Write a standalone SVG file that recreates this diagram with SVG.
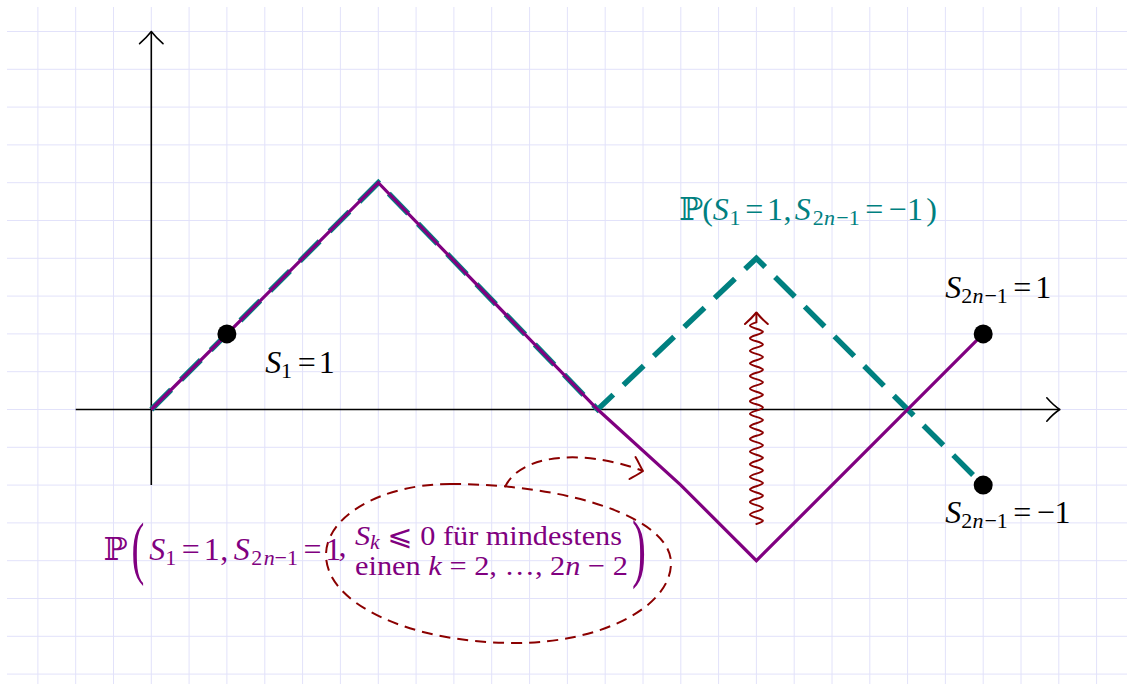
<svg xmlns="http://www.w3.org/2000/svg" width="1134" height="684" viewBox="0 0 1134 684">
<style>
.grid{stroke:#e2e2fa;stroke-width:1;fill:none}
.axis{stroke:#000;stroke-width:1.6;fill:none}
.tip{stroke:#000;stroke-width:1.6;fill:none;stroke-linecap:round;stroke-linejoin:round}
.purple{stroke:#800080;stroke-width:3.2;fill:none}
.teal{stroke:#008080;stroke-width:5.5;fill:none;stroke-dasharray:28 14}
.red{stroke:#8b0000;stroke-width:2;fill:none;stroke-linecap:round;stroke-linejoin:round}
.reddash{stroke:#8b0000;stroke-width:2;fill:none;stroke-dasharray:11 7}
.dot{fill:#000}
text{font-family:"Liberation Serif","Times New Roman","DejaVu Serif","DejaVu Sans",serif;font-size:32px}
.it{font-style:italic}
.sub{font-size:22px}
.blk{font-size:28px}
.bsub{font-size:20px}
.lp{font-size:70px}
.rp{font-size:76px}
</style>
<rect width="1134" height="684" fill="#fff"/>
<g id="grid">
<path class="grid" d="M37.9,7V684M75.7,7V684M113.5,7V684M151.3,7V684M189.1,7V684M226.9,7V684M264.8,7V684M302.6,7V684M340.4,7V684M378.3,7V684M416.1,7V684M453.9,7V684M491.7,7V684M529.6,7V684M567.4,7V684M605.2,7V684M643,7V684M680.8,7V684M718.6,7V684M756.4,7V684M794.2,7V684M832,7V684M869.8,7V684M907.6,7V684M945.4,7V684M983.2,7V684M1021,7V684M1058.8,7V684M1096.6,7V684"/>
<path class="grid" d="M7,31.5H1127M7,69.3H1127M7,107.1H1127M7,144.9H1127M7,182.7H1127M7,220.5H1127M7,258.3H1127M7,296.1H1127M7,333.9H1127M7,371.7H1127M7,409.5H1127M7,447.3H1127M7,485.1H1127M7,522.9H1127M7,560.7H1127M7,598.5H1127M7,636.3H1127M7,674.1H1127"/>
</g>
<g id="axes">
<path class="axis" d="M75.7,409.5H1059"/>
<path class="tip" d="M1046.8,397.8C1050.5,402 1055,406.5 1059.8,409.5C1055,412.5 1050.5,417 1046.8,421.2"/>
<path class="axis" d="M151.3,485.1V32.3"/>
<path class="tip" d="M139.6,43.7C143.8,40 148.3,35.3 151.3,31.5C154.3,35.3 158.8,40 163,43.7"/>
</g>
<g id="connectors">
<path id="path-teal" class="teal" d="M151.3,409.5L378.3,182.7L597.7,409.5L756.4,258.3L983.2,485.1"/>
<path id="path-purple" class="purple" d="M151.3,409.5L378.3,182.7L597.7,409.5L680.8,485.1L756.4,560.7L983.2,333.9"/>
<g id="snake-arrow">
<path class="red" d="M756.4,524c8.67,-2.67 8.67,-3.63 0,-6.3c-8.67,-2.67 -8.67,-3.63 0,-6.3c8.67,-2.67 8.67,-3.63 0,-6.3c-8.67,-2.67 -8.67,-3.63 0,-6.3c8.67,-2.67 8.67,-3.63 0,-6.3c-8.67,-2.67 -8.67,-3.63 0,-6.3c8.67,-2.67 8.67,-3.63 0,-6.3c-8.67,-2.67 -8.67,-3.63 0,-6.3c8.67,-2.67 8.67,-3.63 0,-6.3c-8.67,-2.67 -8.67,-3.63 0,-6.3c8.67,-2.67 8.67,-3.63 0,-6.3c-8.67,-2.67 -8.67,-3.63 0,-6.3c8.67,-2.67 8.67,-3.63 0,-6.3c-8.67,-2.67 -8.67,-3.63 0,-6.3c8.67,-2.67 8.67,-3.63 0,-6.3c-8.67,-2.67 -8.67,-3.63 0,-6.3c8.67,-2.67 8.67,-3.63 0,-6.3c-8.67,-2.67 -8.67,-3.63 0,-6.3c8.67,-2.67 8.67,-3.63 0,-6.3c-8.67,-2.67 -8.67,-3.63 0,-6.3c8.67,-2.67 8.67,-3.63 0,-6.3c-8.67,-2.67 -8.67,-3.63 0,-6.3c8.67,-2.67 8.67,-3.63 0,-6.3c-8.67,-2.67 -8.67,-3.63 0,-6.3c8.67,-2.67 8.67,-3.63 0,-6.3c-8.67,-2.67 -8.67,-3.63 0,-6.3c8.67,-2.67 8.67,-3.63 0,-6.3c-8.67,-2.67 -8.67,-3.63 0,-6.3c8.67,-2.67 8.67,-3.63 0,-6.3c-8.67,-2.67 -8.67,-3.63 0,-6.3c8.67,-2.67 8.67,-3.63 0,-6.3c-8.67,-2.67 -8.67,-3.63 0,-6.3L756.4,313"/>
<path class="red" d="M745,324C749,320.5 753.5,316 756.4,312.5C759.3,316 763.8,320.5 767.8,324"/>
</g>
<g id="dashed-arrow">
<path class="reddash" d="M505,487C520,455 580,448 642,470.5"/>
<path class="red" d="M635.5,457C638.5,462 640.5,467 643,471C639,474 634,476.5 629.5,479"/>
</g>
</g>
<g id="ellipse">
<path class="reddash" d="M450,484C572,484 671,519 671,563C671,607 601,643 515,643C411,643 326,604 326,555C326,516 382,484 450,484Z"/>
</g>
<g id="dots">
<circle class="dot" cx="226.9" cy="333.9" r="9.5"/>
<circle class="dot" cx="983.2" cy="333.9" r="9.5"/>
<circle class="dot" cx="983.2" cy="485.1" r="9.5"/>
</g>
<g id="label-s1">
<text text-anchor="middle" fill="#000"><tspan class="it" x="273.3" y="373">S</tspan><tspan class="sub" x="286.4" y="378">1</tspan><tspan x="306.7" y="373">=</tspan><tspan x="326.7" y="373">1</tspan></text>
</g>
<g id="label-s2n-plus">
<text text-anchor="middle" fill="#000"><tspan class="it" x="953.3" y="298">S</tspan><tspan class="sub" x="966.7" y="303">2</tspan><tspan class="sub it" x="978" y="303">n</tspan><tspan class="sub" x="990.8" y="303">−</tspan><tspan class="sub" x="1002.3" y="303">1</tspan><tspan x="1022.3" y="298">=</tspan><tspan x="1043.3" y="298">1</tspan></text>
</g>
<g id="label-s2n-minus">
<text text-anchor="middle" fill="#000"><tspan class="it" x="953.3" y="523">S</tspan><tspan class="sub" x="966.7" y="528">2</tspan><tspan class="sub it" x="978" y="528">n</tspan><tspan class="sub" x="990.8" y="528">−</tspan><tspan class="sub" x="1002.3" y="528">1</tspan><tspan x="1022.3" y="523">=</tspan><tspan x="1045.8" y="523">−</tspan><tspan x="1062.5" y="523">1</tspan></text>
</g>
<g id="label-teal">
<text text-anchor="middle" fill="#008080"><tspan x="691.3" y="220">ℙ</tspan><tspan x="707.5" y="220">(</tspan><tspan class="it" x="720.8" y="220">S</tspan><tspan class="sub" x="735" y="225">1</tspan><tspan x="754.2" y="220">=</tspan><tspan x="775" y="220">1</tspan><tspan x="787.5" y="220">,</tspan><tspan class="it" x="802.8" y="220">S</tspan><tspan class="sub" x="818.3" y="225">2</tspan><tspan class="sub it" x="829.5" y="225">n</tspan><tspan class="sub" x="842.5" y="225">−</tspan><tspan class="sub" x="854.2" y="225">1</tspan><tspan x="874.2" y="220">=</tspan><tspan x="897.5" y="220">−</tspan><tspan x="915" y="220">1</tspan><tspan x="931.7" y="220">)</tspan></text>
</g>
<g id="label-purple">
<text text-anchor="middle" fill="#800080"><tspan x="115.8" y="560">ℙ</tspan><tspan class="it" x="157.3" y="560">S</tspan><tspan class="sub" x="170.8" y="565">1</tspan><tspan x="190.8" y="560">=</tspan><tspan x="211.7" y="560">1</tspan><tspan x="224.2" y="560">,</tspan><tspan class="it" x="241.7" y="560">S</tspan><tspan class="sub" x="256.7" y="565">2</tspan><tspan class="sub it" x="269.2" y="565">n</tspan><tspan class="sub" x="280.8" y="565">−</tspan><tspan class="sub" x="292.5" y="565">1</tspan><tspan x="312.5" y="560">=</tspan><tspan x="333.3" y="560">1</tspan><tspan x="342.5" y="556">,</tspan></text>
<text class="lp" fill="#800080" text-anchor="middle" transform="translate(138,571) scale(0.55,1)">(</text>
<text class="rp" fill="#800080" text-anchor="middle" transform="translate(639,573) scale(0.55,1)">)</text>
<text class="blk" fill="#800080" x="355" y="545" textLength="267" lengthAdjust="spacingAndGlyphs"><tspan class="it">S</tspan><tspan class="bsub it" dy="4">k</tspan><tspan dy="-4"> ⩽ 0 für mindestens</tspan></text>
<text class="blk" fill="#800080" x="355" y="575" textLength="273" lengthAdjust="spacingAndGlyphs">einen <tspan class="it">k</tspan> = 2, …, 2<tspan class="it">n</tspan> − 2</text>
</g>
</svg>
